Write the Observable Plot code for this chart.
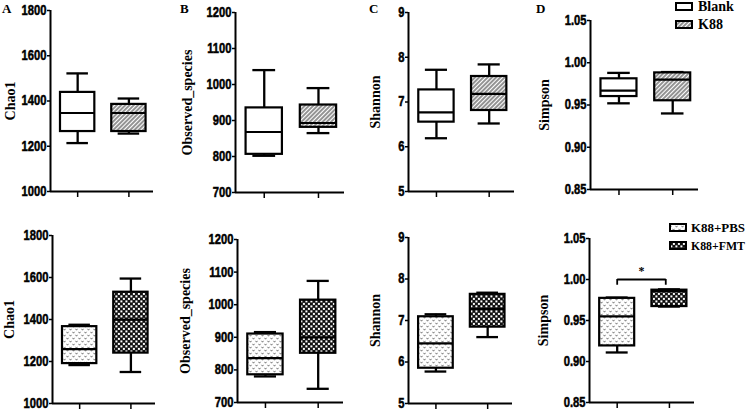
<!DOCTYPE html>
<html><head><meta charset="utf-8">
<script src="https://cdn.jsdelivr.net/npm/d3@7"></script>
<script src="https://cdn.jsdelivr.net/npm/@observablehq/plot@0.6"></script>
<style>
body{margin:0;background:#fff;}
#chart{position:relative;width:750px;height:410px;overflow:hidden;background:#fff;}
#chart svg{position:absolute;}
#chart svg g[aria-label="y-axis tick label"]{font-family:'Liberation Sans',Arial,sans-serif;font-weight:bold;font-size:14px;}
#chart svg g[aria-label="y-axis tick label"] text{fill:#000;stroke:#000;stroke-width:0.5px;}
</style></head><body>
<svg width="0" height="0" style="position:absolute">
<defs>
<pattern id="hatch" width="3" height="3" patternUnits="userSpaceOnUse" patternTransform="rotate(45)">
 <rect width="3" height="3" fill="#fff"/>
 <line x1="1" y1="0" x2="1" y2="3" stroke="#3a3a3a" stroke-width="1.1"/>
</pattern>
<pattern id="vdots" width="6" height="6" patternUnits="userSpaceOnUse">
 <rect width="6" height="6" fill="#fff"/>
 <path d="M0.5,0.8L1.5,2.2L2.5,0.8M3.5,3.8L4.5,5.2L5.5,3.8" fill="none" stroke="#555" stroke-width="0.8"/>
</pattern>
<pattern id="checker" width="5" height="5" patternUnits="userSpaceOnUse">
 <rect width="5" height="5" fill="#111"/>
 <rect x="0.4" y="0.4" width="2" height="2" fill="#fff"/>
 <rect x="2.9" y="2.9" width="2" height="2" fill="#fff"/>
</pattern>
</defs></svg>
<div id="chart"></div>
<script>
// ---------- data ----------
const metrics = ["Chao1", "Observed_species", "Shannon", "Simpson"];
const panelLetters = ["A", "B", "C", "D"];
const yDomains = [[1000, 1800], [700, 1200], [5, 9], [0.85, 1.05]];
const yTickValues = [
  [1000, 1200, 1400, 1600, 1800],
  [700, 800, 900, 1000, 1100, 1200],
  [5, 6, 7, 8, 9],
  [0.85, 0.90, 0.95, 1.00, 1.05]
];
const yTickLabels = [
  ["1000", "1200", "1400", "1600", "1800"],
  ["700", "800", "900", "1000", "1100", "1200"],
  ["5", "6", "7", "8", "9"],
  ["0.85", "0.90", "0.95", "1.00", "1.05"]
];
const topGroups = ["Blank", "K88"];
const bottomGroups = ["K88+PBS", "K88+FMT"];
// [min, Q1, median, Q3, max] for each metric
const blankStats = [[1214, 1265, 1347, 1438, 1522], [802, 806, 868, 935, 1040], [6.19, 6.55, 6.77, 7.27, 7.72], [0.952, 0.960, 0.967, 0.981, 0.988]];
const k88Stats   = [[1256, 1265, 1347, 1385, 1411], [865, 881, 893, 943, 990], [6.52, 6.81, 7.18, 7.57, 7.84], [0.940, 0.955, 0.980, 0.988, 0.989]];
const pbsStats   = [[1183, 1190, 1259, 1366, 1375], [780, 785, 836, 910, 916], [5.77, 5.85, 6.45, 7.09, 7.15], [0.911, 0.919, 0.955, 0.977, 0.978]];
const fmtStats   = [[1150, 1240, 1399, 1530, 1595], [742, 851, 900, 1014, 1073], [6.60, 6.84, 7.28, 7.63, 7.67], [0.967, 0.967, 0.986, 0.987, 0.988]];
const sigMetric = "Simpson";
const sigLevel = 1.00;
const sigLabel = "*";

// ---------- styling / layout ----------
const fills = {"Blank": "#fff", "K88": "url(#hatch)", "K88+PBS": "url(#vdots)", "K88+FMT": "url(#checker)"};
const tickFont = "'Liberation Sans',Arial,sans-serif";
const serif = "'Liberation Serif','Times New Roman',serif";
const xDomain = [-0.53, 1.48];
const layout = [
  // top row
  {left: 0,   top: 0,   w: 180, h: 205, ax: 50,  ar: 153, yt: 10,  yb: 191, ldx: -40},
  {left: 180, top: 0,   w: 180, h: 205, ax: 235, ar: 344, yt: 12,  yb: 192, ldx: -48},
  {left: 360, top: 0,   w: 180, h: 205, ax: 408, ar: 514, yt: 12,  yb: 191, ldx: -33},
  {left: 540, top: 0,   w: 210, h: 205, ax: 590, ar: 698, yt: 20,  yb: 189, ldx: -46},
  // bottom row
  {left: 0,   top: 205, w: 180, h: 205, ax: 52,  ar: 155, yt: 235, yb: 403, ldx: -43},
  {left: 180, top: 205, w: 180, h: 205, ax: 237, ar: 343, yt: 239, yb: 402, ldx: -52},
  {left: 360, top: 205, w: 180, h: 205, ax: 408, ar: 512, yt: 237, yb: 403, ldx: -33},
  {left: 540, top: 205, w: 210, h: 205, ax: 589, ar: 694, yt: 238, yb: 402, ldx: -46}
];

const chart = document.getElementById("chart");
const halfBox = 0.335, halfCap = 0.21;

function panel(row, m) {
  const L = layout[row * 4 + m];
  const groups = row === 0 ? topGroups : bottomGroups;
  const stats = row === 0 ? [blankStats, k88Stats] : [pbsStats, fmtStats];
  const rows = groups.map((g, i) => {
    const s = stats[i][m];
    return {group: g, i, min: s[0], q1: s[1], med: s[2], q3: s[3], max: s[4], fill: fills[g]};
  });
  const tv = yTickValues[m], tl = yTickLabels[m];
  const marks = [
    Plot.axisY({ticks: tv, tickFormat: d => tl[tv.indexOf(d)], tickSize: 3, tickPadding: 1, strokeWidth: 1.5, fontSize: 14, fontWeight: "bold", fontFamily: tickFont, label: null}),
    Plot.axisX({ticks: [0, 1], tickFormat: () => "", tickSize: 6, strokeWidth: 1.5, label: null}),
    Plot.ruleX(rows, {x: "i", y1: "min", y2: "max", strokeWidth: 2.3}),
    Plot.ruleY(rows, {y: "min", x1: d => d.i - halfCap, x2: d => d.i + halfCap, strokeWidth: 2.3}),
    Plot.ruleY(rows, {y: "max", x1: d => d.i - halfCap, x2: d => d.i + halfCap, strokeWidth: 2.3}),
    Plot.rect(rows, {x1: d => d.i - halfBox, x2: d => d.i + halfBox, y1: "q1", y2: "q3", fill: "fill", stroke: "#000", strokeWidth: 2.2}),
    Plot.ruleY(rows, {y: "med", x1: d => d.i - halfBox, x2: d => d.i + halfBox, strokeWidth: 2.2}),
    Plot.ruleX([xDomain[0]], {strokeWidth: 2}),
    Plot.ruleY([yDomains[m][0]], {strokeWidth: 2}),
    Plot.text([metrics[m]], {frameAnchor: "left", textAnchor: "middle", dx: L.ldx, rotate: -90, fontFamily: serif, fontWeight: "bold", fontSize: 14, fill: "#000"})
  ];
  if (row === 1 && metrics[m] === sigMetric) {
    const br = [{x1: 0, x2: 0.93, y: sigLevel}];
    marks.push(
      Plot.link(br, {x1: "x1", x2: "x2", y1: "y", y2: "y", strokeWidth: 2}),
      Plot.ruleX([0, 0.93], {x: d => d, y1: () => sigLevel - 0.007, y2: () => sigLevel, strokeWidth: 1.8}),
      Plot.text([sigLabel], {x: () => 0.465, y: () => sigLevel, dy: -8, fontSize: 12, fontFamily: serif, fill: "#000"})
    );
  }
  const svg = Plot.plot({
    width: L.w, height: L.h,
    marginLeft: L.ax - L.left, marginRight: L.left + L.w - L.ar,
    marginTop: L.yt - L.top, marginBottom: L.top + L.h - L.yb,
    x: {domain: xDomain, axis: null},
    y: {domain: yDomains[m], axis: null},
    color: {type: "identity"},
    style: {background: "transparent", color: "#000", fontFamily: tickFont, fontSize: "14px", fontWeight: "bold", overflow: "visible"},
    marks
  });
  svg.style.left = L.left + "px";
  svg.style.top = L.top + "px";
  chart.appendChild(svg);
  // condense tick labels (reference uses a narrow bold face)
  svg.querySelectorAll('g[aria-label="y-axis tick label"] text').forEach(t => {
    const len = t.getComputedTextLength();
    if (len > 0) {
      t.setAttribute("textLength", (len * 0.8).toFixed(2));
      t.setAttribute("lengthAdjust", "spacingAndGlyphs");
    }
  });
}
for (let r = 0; r < 2; r++) for (let m = 0; m < 4; m++) panel(r, m);

// ---------- letters & legends ----------
const overlay = d3.select(chart).append("svg").attr("width", 750).attr("height", 410)
  .style("left", "0px").style("top", "0px");
const letterX = [2, 180, 369, 536];
overlay.selectAll("text.letter").data(panelLetters).join("text").attr("class", "letter")
  .attr("x", (d, i) => letterX[i]).attr("y", 13)
  .attr("font-family", serif).attr("font-weight", "bold").attr("font-size", 13).text(d => d);

function legend(groups, sx, tx, y0, fs, maxW) {
  groups.forEach((g, i) => {
    const y = y0 + i * 18;
    overlay.append("rect").attr("x", sx).attr("y", y - 8).attr("width", 16).attr("height", 7)
      .attr("fill", fills[g]).attr("stroke", "#000").attr("stroke-width", 2);
    const t = overlay.append("text").attr("x", tx).attr("y", y).attr("font-family", serif)
      .attr("font-weight", "bold").attr("font-size", fs).text(g);
    const len = t.node().getComputedTextLength();
    if (len > maxW) t.attr("textLength", maxW).attr("lengthAdjust", "spacingAndGlyphs");
  });
}
legend(topGroups, 676, 698, 11, 14, 50);
legend(bottomGroups, 670, 691, 232, 13, 54);
</script>
</body></html>
